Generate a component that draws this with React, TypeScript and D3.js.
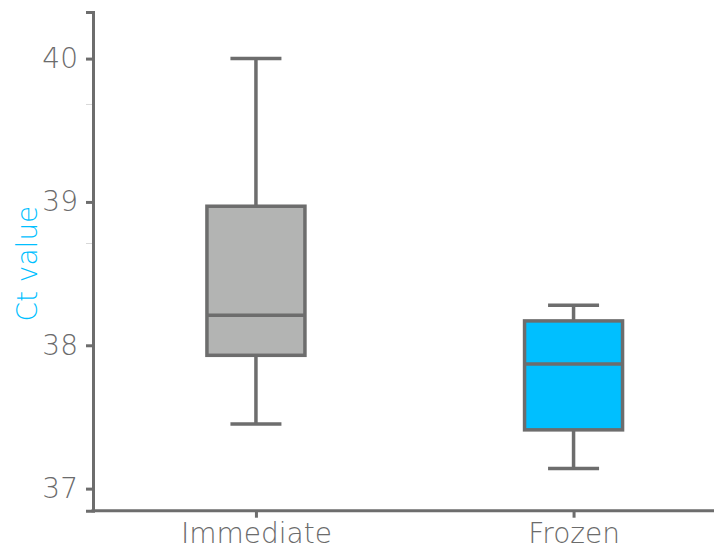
import React, { useEffect, useRef } from 'react';
import * as d3 from 'd3';

// box plot summary per group
const groups = ['Immediate', 'Frozen'];
const whiskerLow = [37.45, 37.14];
const q1 = [37.93, 37.41];
const median = [38.21, 37.87];
const q3 = [38.97, 38.17];
const whiskerHigh = [40.0, 38.28];
const fills = ['#b3b4b3', '#00bfff'];

const yTicks = [37, 38, 39, 40];
const yMinorTicks = [38.71, 39.68];
const yLabel = 'Ct value';

const App = () => {
  const svgRef = useRef<SVGSVGElement>(null);

  useEffect(() => {
    const svg = d3.select(svgRef.current);
    svg.selectAll('*').remove();

    const width = 714;
    const height = 550;
    const margin = { top: 12, right: 0, bottom: 40, left: 93 };
    const font = "'DejaVu Sans', sans-serif";
    const fontSize = '28px';
    const fontWeight = 200;
    const axisColor = '#6d6d6d';

    const y = d3.scaleLinear()
      .domain([36.846, 40.325])
      .range([height - margin.bottom + 0.7, margin.top]);

    const x = d3.scalePoint()
      .domain(groups)
      .range([margin.left, margin.left + 643.5])
      .padding(0.513);

    const boxW = 98;
    const capW = 51;

    const data = groups.map((g, i) => ({
      g, lo: whiskerLow[i], q1: q1[i], med: median[i], q3: q3[i], hi: whiskerHigh[i], fill: fills[i],
    }));

    const box = svg.append('g')
      .selectAll('g')
      .data(data)
      .enter()
      .append('g')
      .attr('transform', d => `translate(${x(d.g)},0)`);

    // whisker stems
    box.append('line')
      .attr('x1', 0).attr('x2', 0)
      .attr('y1', d => y(d.hi)).attr('y2', d => y(d.q3))
      .attr('stroke', axisColor).attr('stroke-width', 3.5);
    box.append('line')
      .attr('x1', 0).attr('x2', 0)
      .attr('y1', d => y(d.q1)).attr('y2', d => y(d.lo))
      .attr('stroke', axisColor).attr('stroke-width', 3.5);
    // caps
    box.append('line')
      .attr('x1', -capW / 2).attr('x2', capW / 2)
      .attr('y1', d => y(d.hi)).attr('y2', d => y(d.hi))
      .attr('stroke', axisColor).attr('stroke-width', 3.5);
    box.append('line')
      .attr('x1', -capW / 2).attr('x2', capW / 2)
      .attr('y1', d => y(d.lo)).attr('y2', d => y(d.lo))
      .attr('stroke', axisColor).attr('stroke-width', 3.5);
    // box
    box.append('rect')
      .attr('x', -boxW / 2)
      .attr('width', boxW)
      .attr('y', d => y(d.q3))
      .attr('height', d => y(d.q1) - y(d.q3))
      .attr('fill', d => d.fill)
      .attr('stroke', axisColor)
      .attr('stroke-width', 3.5);
    // median
    box.append('line')
      .attr('x1', -boxW / 2).attr('x2', boxW / 2)
      .attr('y1', d => y(d.med)).attr('y2', d => y(d.med))
      .attr('stroke', axisColor).attr('stroke-width', 3.5);

    // minor ticks (faint)
    svg.append('g')
      .selectAll('line')
      .data(yMinorTicks)
      .enter()
      .append('line')
      .attr('x1', margin.left - 7).attr('x2', margin.left)
      .attr('y1', d => y(d)).attr('y2', d => y(d))
      .attr('stroke', '#d8d8d8').attr('stroke-width', 1);
    svg.append('line')
      .attr('x1', margin.left - 7).attr('x2', margin.left)
      .attr('y1', y(40.325)).attr('y2', y(40.325))
      .attr('stroke', '#d8d8d8').attr('stroke-width', 1);

    // y axis
    const yAxis = svg.append('g')
      .attr('transform', `translate(${margin.left},0)`)
      .call(d3.axisLeft(y).tickValues(yTicks).tickFormat(d3.format('d')).tickSize(7).tickPadding(8));
    yAxis.select('.domain').attr('stroke', axisColor).attr('stroke-width', 3);
    yAxis.selectAll('.tick line').attr('stroke', axisColor).attr('stroke-width', 3);
    yAxis.selectAll('.tick text')
      .attr('fill', '#6b6b6b')
      .style('font-family', font)
      .style('font-size', fontSize)
      .style('font-weight', fontWeight);

    // x axis
    const xAxis = svg.append('g')
      .attr('transform', `translate(0,${y(36.846)})`)
      .call(d3.axisBottom(x).tickSize(7).tickPadding(5));
    xAxis.select('.domain').attr('stroke', axisColor).attr('stroke-width', 3)
      .attr('d', `M${margin.left - 1.5},0H${width}`);
    xAxis.selectAll('.tick line').attr('stroke', axisColor).attr('stroke-width', 3);
    xAxis.selectAll('.tick text')
      .attr('fill', '#6b6b6b')
      .style('font-family', font)
      .style('font-size', fontSize)
      .style('font-weight', fontWeight);

    svg.append('text')
      .attr('transform', `translate(37,${(y(37) + y(40)) / 2 - 10}) rotate(-90)`)
      .attr('text-anchor', 'middle')
      .attr('fill', '#00bfff')
      .style('font-family', font)
      .style('font-size', fontSize)
      .style('font-weight', fontWeight)
      .text(yLabel);
  }, []);

  return (
    <svg ref={svgRef} width={714} height={550}
      style={{ position: 'absolute', left: 0, top: 0, background: '#fff' }} />
  );
};

export default App;
